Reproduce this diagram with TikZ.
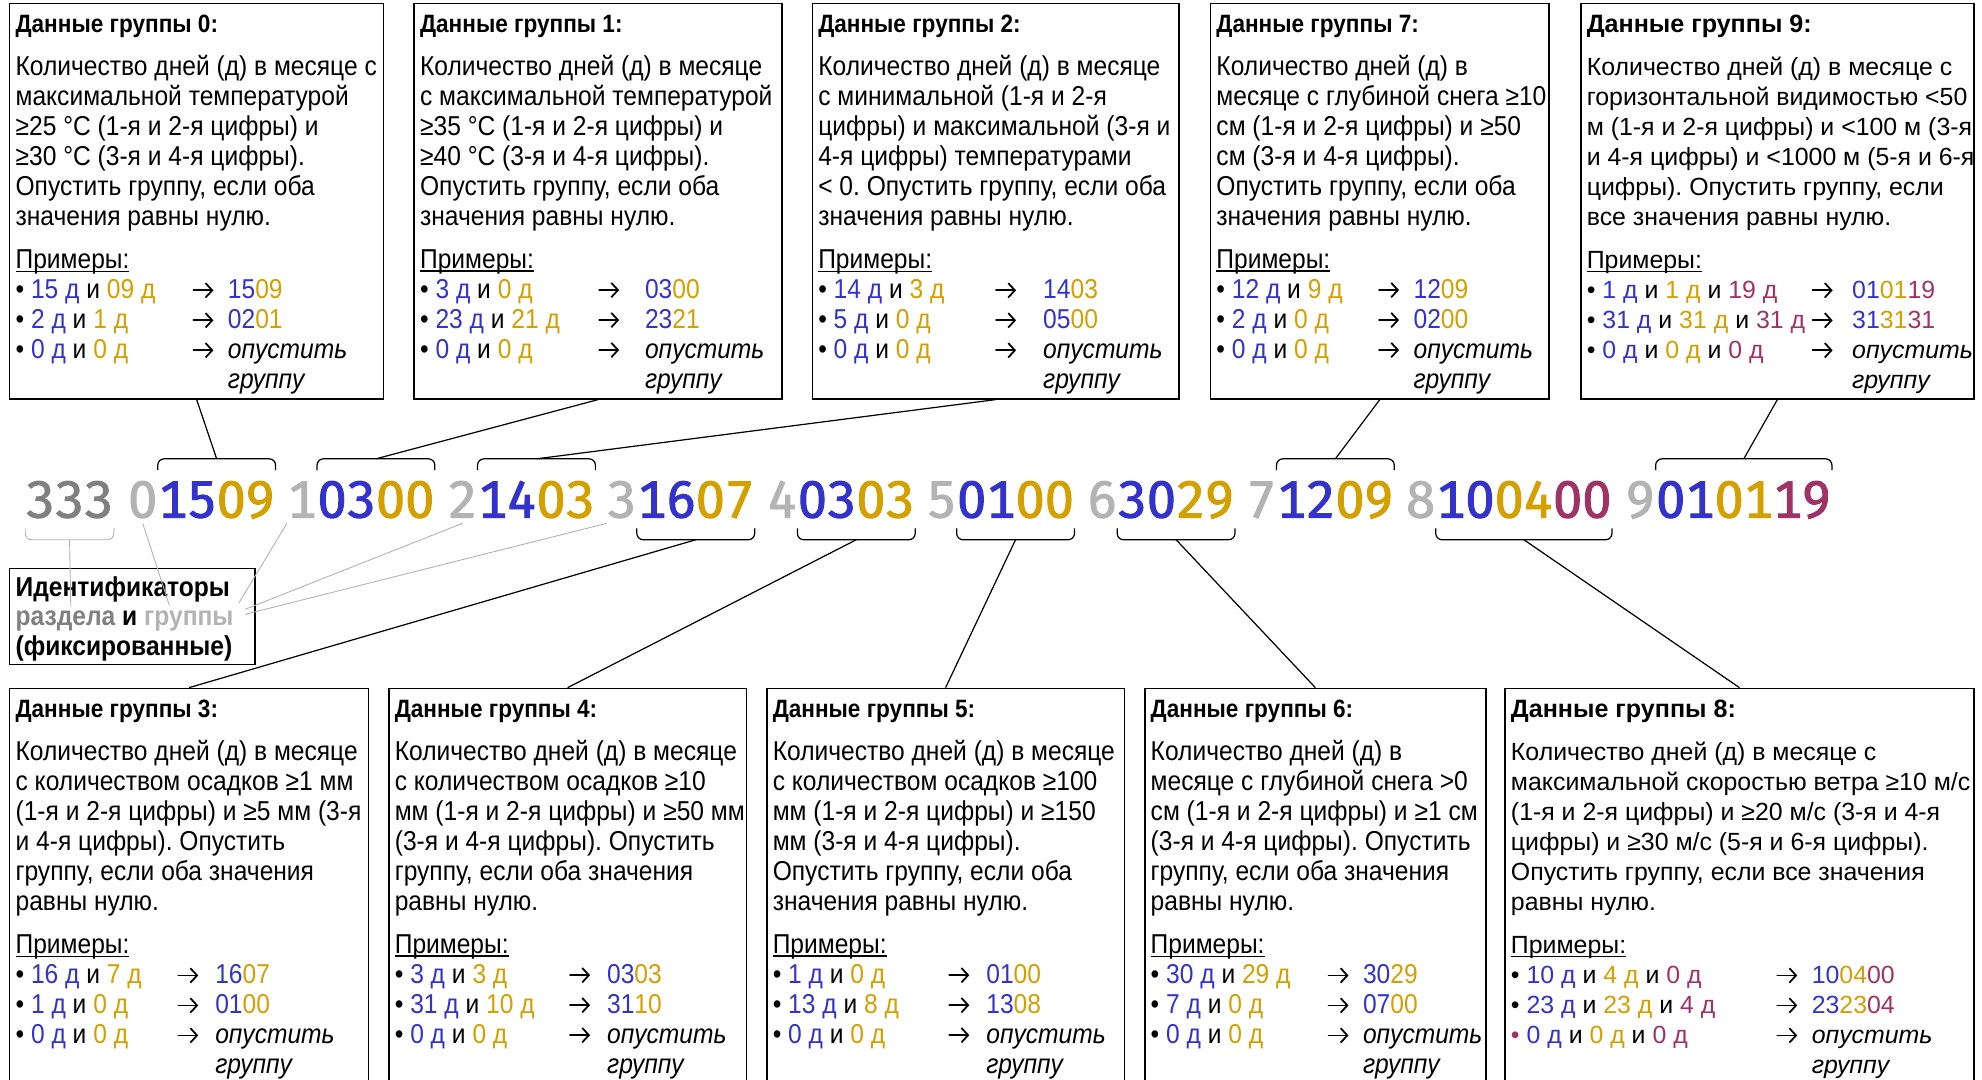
\documentclass[tikz,border=0pt]{standalone}
\usepackage{fontspec}
\setmainfont{Liberation Sans}
\newfontfamily\narrowfont{Liberation Sans}[FakeStretch=0.9]
\newfontfamily\digitfont{Fira Sans}[Numbers=Monospaced, FakeBold=1.8]
\usetikzlibrary{positioning,arrows.meta}
\frenchspacing

\definecolor{cblue}{HTML}{3333CC}
\definecolor{cgold}{HTML}{D4A000}
\definecolor{cmar}{HTML}{9F3366}
\definecolor{cgrey}{HTML}{B3B3B3}
\definecolor{cdark}{HTML}{808080}

\newcommand{\blu}[1]{\textcolor{cblue}{#1}}
\newcommand{\gld}[1]{\textcolor{cgold}{#1}}
\newcommand{\mar}[1]{\textcolor{cmar}{#1}}
\newcommand{\undl}[1]{\setbox0\hbox{#1}\rlap{\rule[-1.6pt]{\wd0}{0.6pt}}\box0}
\newcommand{\ttl}[1]{{\bfseries\fontsize{11.3}{13.5}\selectfont #1}}
\newcommand{\arr}{\tikz[baseline=-3.6pt]\draw[-{Straight Barb[length=3pt,width=6.5pt]}, line width=0.8pt, line cap=round] (0pt,0pt) -- (9pt,0pt);}
\newcommand{\exline}[4]{\makebox[#1][l]{•\ #3}\makebox[#2][l]{\arr}#4}
\newcommand{\exskip}[3]{\hspace*{\dimexpr#1+#2\relax}#3}

\tikzset{
  grpbox/.style={draw, line width=0.7pt, inner sep=0pt, anchor=north west},
  grptext/.style={anchor=north west, align=left, inner xsep=0.1cm, inner ysep=0.19cm,
    font=\narrowfont\fontsize{12.3}{13.5}\selectfont},
  widetext/.style={grptext, font=\fontsize{11.2}{13.5}\selectfont},
  digits/.style={inner sep=0pt, anchor=base west, font=\digitfont\fontsize{23.5}{28}\selectfont},
  brk/.style={line width=0.55pt, rounded corners=0.1cm},
  link/.style={line width=0.55pt},
  idlink/.style={line width=0.4pt, color=cgrey},
}

\begin{document}
\begin{tikzpicture}[x=0.02cm, y=-0.02cm]
  \path[fill=white, use as bounding box] (0,0) rectangle (1568,854);
  \clip (0,0) rectangle (1568,854);

  % the code line
  \node[digits] (sec) at (20,409.5) {\textcolor{cdark}{333}};
  \node[digits] (id0) at (101,409.5) {\textcolor{cgrey}{0}};
  \node[digits, base right=0pt of id0] (d0) {\blu{15}\gld{09}};
  \node[digits] (id1) at (227,409.5) {\textcolor{cgrey}{1}};
  \node[digits, base right=0pt of id1] (d1) {\blu{03}\gld{00}};
  \node[digits] (id2) at (354,409.5) {\textcolor{cgrey}{2}};
  \node[digits, base right=0pt of id2] (d2) {\blu{14}\gld{03}};
  \node[digits] (id3) at (480,409.5) {\textcolor{cgrey}{3}};
  \node[digits, base right=0pt of id3] (d3) {\blu{16}\gld{07}};
  \node[digits] (id4) at (607,409.5) {\textcolor{cgrey}{4}};
  \node[digits, base right=0pt of id4] (d4) {\blu{03}\gld{03}};
  \node[digits] (id5) at (733,409.5) {\textcolor{cgrey}{5}};
  \node[digits, base right=0pt of id5] (d5) {\blu{01}\gld{00}};
  \node[digits] (id6) at (860,409.5) {\textcolor{cgrey}{6}};
  \node[digits, base right=0pt of id6] (d6) {\blu{30}\gld{29}};
  \node[digits] (id7) at (986,409.5) {\textcolor{cgrey}{7}};
  \node[digits, base right=0pt of id7] (d7) {\blu{12}\gld{09}};
  \node[digits] (id8) at (1112,409.5) {\textcolor{cgrey}{8}};
  \node[digits, base right=0pt of id8] (d8) {\blu{10}\gld{04}\mar{00}};
  \node[digits] (id9) at (1286,409.5) {\textcolor{cgrey}{9}};
  \node[digits, base right=0pt of id9] (d9) {\blu{01}\gld{01}\mar{19}};

  \coordinate (brT) at (0,363);
  \coordinate (brE) at (0,372);
  \coordinate (bbT) at (0,427);
  \coordinate (bbE) at (0,418);
  \coordinate (idB) at (0,414);

  % brackets above and below
  \draw[brk] (d0.west |- brE) -- (d0.west |- brT) -- (d0.east |- brT) -- (d0.east |- brE);
  \draw[brk] (d1.west |- brE) -- (d1.west |- brT) -- (d1.east |- brT) -- (d1.east |- brE);
  \draw[brk] (d2.west |- brE) -- (d2.west |- brT) -- (d2.east |- brT) -- (d2.east |- brE);
  \draw[brk] (d7.west |- brE) -- (d7.west |- brT) -- (d7.east |- brT) -- (d7.east |- brE);
  \draw[brk] (d9.west |- brE) -- (d9.west |- brT) -- (d9.east |- brT) -- (d9.east |- brE);
  \draw[brk] (d3.west |- bbE) -- (d3.west |- bbT) -- (d3.east |- bbT) -- (d3.east |- bbE);
  \draw[brk] (d4.west |- bbE) -- (d4.west |- bbT) -- (d4.east |- bbT) -- (d4.east |- bbE);
  \draw[brk] (d5.west |- bbE) -- (d5.west |- bbT) -- (d5.east |- bbT) -- (d5.east |- bbE);
  \draw[brk] (d6.west |- bbE) -- (d6.west |- bbT) -- (d6.east |- bbT) -- (d6.east |- bbE);
  \draw[brk] (d8.west |- bbE) -- (d8.west |- bbT) -- (d8.east |- bbT) -- (d8.east |- bbE);
  \draw[brk, idlink] (sec.west |- bbE) -- (sec.west |- bbT) -- (sec.east |- bbT) -- (sec.east |- bbE);

  % top boxes
  \node[grpbox, minimum width=5.92cm, minimum height=6.26cm] (b0) at (7,2) {};
  \node[grptext] (t0) at (b0.north west) {\ttl{Данные группы 0:}\\[5.85pt]
    Количество дней (д) в месяце с\\
    максимальной температурой\\
    ≥25 °C (1-я и 2-я цифры) и\\
    ≥30 °C (3-я и 4-я цифры).\\
    Опустить группу, если оба\\
    значения равны нулю.\\[5.85pt]
    \undl{Примеры:}\\
    \exline{2.8cm}{0.56cm}{\blu{15 д} и \gld{09 д}}{\blu{15}\gld{09}}\\
    \exline{2.8cm}{0.56cm}{\blu{2 д} и \gld{1 д}}{\blu{02}\gld{01}}\\
    \exline{2.8cm}{0.56cm}{\blu{0 д} и \gld{0 д}}{\textit{опустить}}\\
    \exskip{2.8cm}{0.56cm}{\textit{группу}}};

  \node[grpbox, minimum width=5.82cm, minimum height=6.26cm] (b1) at (327,2) {};
  \node[grptext] (t1) at (b1.north west) {\ttl{Данные группы 1:}\\[5.85pt]
    Количество дней (д) в месяце\\
    с максимальной температурой\\
    ≥35 °C (1-я и 2-я цифры) и\\
    ≥40 °C (3-я и 4-я цифры).\\
    Опустить группу, если оба\\
    значения равны нулю.\\[5.85pt]
    \undl{Примеры:}\\
    \exline{2.82cm}{0.74cm}{\blu{3 д} и \gld{0 д}}{\blu{03}\gld{00}}\\
    \exline{2.82cm}{0.74cm}{\blu{23 д} и \gld{21 д}}{\blu{23}\gld{21}}\\
    \exline{2.82cm}{0.74cm}{\blu{0 д} и \gld{0 д}}{\textit{опустить}}\\
    \exskip{2.82cm}{0.74cm}{\textit{группу}}};

  \node[grpbox, minimum width=5.80cm, minimum height=6.26cm] (b2) at (642,2) {};
  \node[grptext] (t2) at (b2.north west) {\ttl{Данные группы 2:}\\[5.85pt]
    Количество дней (д) в месяце\\
    с минимальной (1-я и 2-я\\
    цифры) и максимальной (3-я и\\
    4-я цифры) температурами\\
    < 0. Опустить группу, если оба\\
    значения равны нулю.\\[5.85pt]
    \undl{Примеры:}\\
    \exline{2.8cm}{0.76cm}{\blu{14 д} и \gld{3 д}}{\blu{14}\gld{03}}\\
    \exline{2.8cm}{0.76cm}{\blu{5 д} и \gld{0 д}}{\blu{05}\gld{00}}\\
    \exline{2.8cm}{0.76cm}{\blu{0 д} и \gld{0 д}}{\textit{опустить}}\\
    \exskip{2.8cm}{0.76cm}{\textit{группу}}};

  \node[grpbox, minimum width=5.36cm, minimum height=6.26cm] (b7) at (957,2) {};
  \node[grptext] (t7) at (b7.north west) {\ttl{Данные группы 7:}\\[5.85pt]
    Количество дней (д) в\\
    месяце с глубиной снега ≥10\\
    см (1-я и 2-я цифры) и ≥50\\
    см (3-я и 4-я цифры).\\
    Опустить группу, если оба\\
    значения равны нулю.\\[5.85pt]
    \undl{Примеры:}\\
    \exline{2.56cm}{0.56cm}{\blu{12 д} и \gld{9 д}}{\blu{12}\gld{09}}\\
    \exline{2.56cm}{0.56cm}{\blu{2 д} и \gld{0 д}}{\blu{02}\gld{00}}\\
    \exline{2.56cm}{0.56cm}{\blu{0 д} и \gld{0 д}}{\textit{опустить}}\\
    \exskip{2.56cm}{0.56cm}{\textit{группу}}};

  \node[grpbox, minimum width=6.22cm, minimum height=6.26cm] (b9) at (1250,2) {};
  \node[widetext] (t9) at (b9.north west) {\ttl{Данные группы 9:}\\[5.85pt]
    Количество дней (д) в месяце с\\
    горизонтальной видимостью <50\\
    м (1-я и 2-я цифры) и <100 м (3-я\\
    и 4-я цифры) и <1000 м (5-я и 6-я\\
    цифры). Опустить группу, если\\
    все значения равны нулю.\\[5.85pt]
    \undl{Примеры:}\\
    \exline{3.56cm}{0.64cm}{\blu{1 д} и \gld{1 д} и \mar{19 д}}{\blu{01}\gld{01}\mar{19}}\\
    \exline{3.56cm}{0.64cm}{\blu{31 д} и \gld{31 д} и \mar{31 д}}{\blu{31}\gld{31}\mar{31}}\\
    \exline{3.56cm}{0.64cm}{\blu{0 д} и \gld{0 д} и \mar{0 д}}{\textit{опустить}}\\
    \exskip{3.56cm}{0.64cm}{\textit{группу}}};

  % bottom boxes
  \node[grpbox, minimum width=5.68cm, minimum height=6.44cm] (b3) at (7,544) {};
  \node[grptext] (t3) at (b3.north west) {\ttl{Данные группы 3:}\\[5.85pt]
    Количество дней (д) в месяце\\
    с количеством осадков ≥1 мм\\
    (1-я и 2-я цифры) и ≥5 мм (3-я\\
    и 4-я цифры). Опустить\\
    группу, если оба значения\\
    равны нулю.\\[5.85pt]
    \undl{Примеры:}\\
    \exline{2.56cm}{0.6cm}{\blu{16 д} и \gld{7 д}}{\blu{16}\gld{07}}\\
    \exline{2.56cm}{0.6cm}{\blu{1 д} и \gld{0 д}}{\blu{01}\gld{00}}\\
    \exline{2.56cm}{0.6cm}{\blu{0 д} и \gld{0 д}}{\textit{опустить}}\\
    \exskip{2.56cm}{0.6cm}{\textit{группу}}};

  \node[grpbox, minimum width=5.66cm, minimum height=6.44cm] (b4) at (307,544) {};
  \node[grptext] (t4) at (b4.north west) {\ttl{Данные группы 4:}\\[5.85pt]
    Количество дней (д) в месяце\\
    с количеством осадков ≥10\\
    мм (1-я и 2-я цифры) и ≥50 мм\\
    (3-я и 4-я цифры). Опустить\\
    группу, если оба значения\\
    равны нулю.\\[5.85pt]
    \undl{Примеры:}\\
    \exline{2.76cm}{0.6cm}{\blu{3 д} и \gld{3 д}}{\blu{03}\gld{03}}\\
    \exline{2.76cm}{0.6cm}{\blu{31 д} и \gld{10 д}}{\blu{31}\gld{10}}\\
    \exline{2.76cm}{0.6cm}{\blu{0 д} и \gld{0 д}}{\textit{опустить}}\\
    \exskip{2.76cm}{0.6cm}{\textit{группу}}};

  \node[grpbox, minimum width=5.66cm, minimum height=6.44cm] (b5) at (606,544) {};
  \node[grptext] (t5) at (b5.north west) {\ttl{Данные группы 5:}\\[5.85pt]
    Количество дней (д) в месяце\\
    с количеством осадков ≥100\\
    мм (1-я и 2-я цифры) и ≥150\\
    мм (3-я и 4-я цифры).\\
    Опустить группу, если оба\\
    значения равны нулю.\\[5.85pt]
    \undl{Примеры:}\\
    \exline{2.78cm}{0.6cm}{\blu{1 д} и \gld{0 д}}{\blu{01}\gld{00}}\\
    \exline{2.78cm}{0.6cm}{\blu{13 д} и \gld{8 д}}{\blu{13}\gld{08}}\\
    \exline{2.78cm}{0.6cm}{\blu{0 д} и \gld{0 д}}{\textit{опустить}}\\
    \exskip{2.78cm}{0.6cm}{\textit{группу}}};

  \node[grpbox, minimum width=5.40cm, minimum height=6.44cm] (b6) at (905,544) {};
  \node[grptext] (t6) at (b6.north west) {\ttl{Данные группы 6:}\\[5.85pt]
    Количество дней (д) в\\
    месяце с глубиной снега >0\\
    см (1-я и 2-я цифры) и ≥1 см\\
    (3-я и 4-я цифры). Опустить\\
    группу, если оба значения\\
    равны нулю.\\[5.85pt]
    \undl{Примеры:}\\
    \exline{2.8cm}{0.56cm}{\blu{30 д} и \gld{29 д}}{\blu{30}\gld{29}}\\
    \exline{2.8cm}{0.56cm}{\blu{7 д} и \gld{0 д}}{\blu{07}\gld{00}}\\
    \exline{2.8cm}{0.56cm}{\blu{0 д} и \gld{0 д}}{\textit{опустить}}\\
    \exskip{2.8cm}{0.56cm}{\textit{группу}}};

  \node[grpbox, minimum width=7.42cm, minimum height=6.44cm] (b8) at (1190,544) {};
  \node[widetext] (t8) at (b8.north west) {\ttl{Данные группы 8:}\\[5.85pt]
    Количество дней (д) в месяце с\\
    максимальной скоростью ветра ≥10 м/с\\
    (1-я и 2-я цифры) и ≥20 м/с (3-я и 4-я\\
    цифры) и ≥30 м/с (5-я и 6-я цифры).\\
    Опустить группу, если все значения\\
    равны нулю.\\[5.85pt]
    \undl{Примеры:}\\
    \exline{4.2cm}{0.56cm}{\blu{10 д} и \gld{4 д} и \mar{0 д}}{\blu{10}\gld{04}\mar{00}}\\
    \exline{4.2cm}{0.56cm}{\blu{23 д} и \gld{23 д} и \mar{4 д}}{\blu{23}\gld{23}\mar{04}}\\
    \makebox[4.2cm][l]{\mar{•}\ \blu{0 д} и \gld{0 д} и \mar{0 д}}\makebox[0.56cm][l]{\arr}\textit{опустить}\\
    \exskip{4.2cm}{0.56cm}{\textit{группу}}};

  % identifiers box
  \node[grpbox, minimum width=3.88cm, minimum height=1.52cm] (idb) at (7,449) {};
  \node[grptext, inner ysep=0.13cm, font=\narrowfont\bfseries\fontsize{12.3}{13.4}\selectfont] (idt) at (idb.north west)
    {Идентификаторы\\ \textcolor{cdark}{раздела} и \textcolor{cgrey}{группы}\\ (фиксированные)};

  % connectors
  \draw[link] (b0.south) -- (d0 |- brT);
  \draw[link] (b1.south) -- (d1 |- brT);
  \draw[link] (b2.south) -- (d2 |- brT);
  \draw[link] (b7.south) -- (d7 |- brT);
  \draw[link] (b9.south) -- (d9 |- brT);
  \draw[link] (d3 |- bbT) -- (b3.north);
  \draw[link] (d4 |- bbT) -- (b4.north);
  \draw[link] (d5 |- bbT) -- (b5.north);
  \draw[link] (d6 |- bbT) -- (b6.north);
  \draw[link] (d8 |- bbT) -- (b8.north);

  % grey pointers to the identifiers
  \coordinate (e1) at (56,480);
  \coordinate (e2) at (134,479);
  \coordinate (e3) at (189,477);
  \coordinate (e4) at (194,482);
  \coordinate (e5) at (194,486);
  \draw[idlink] (sec |- bbT) -- (e1);
  \draw[idlink] (id0 |- idB) -- (e2);
  \draw[idlink] (id1.south west |- idB) -- (e3);
  \draw[idlink] (id2 |- idB) -- (e4);
  \draw[idlink] (id3.south west |- idB) -- (e5);
\end{tikzpicture}
\end{document}
